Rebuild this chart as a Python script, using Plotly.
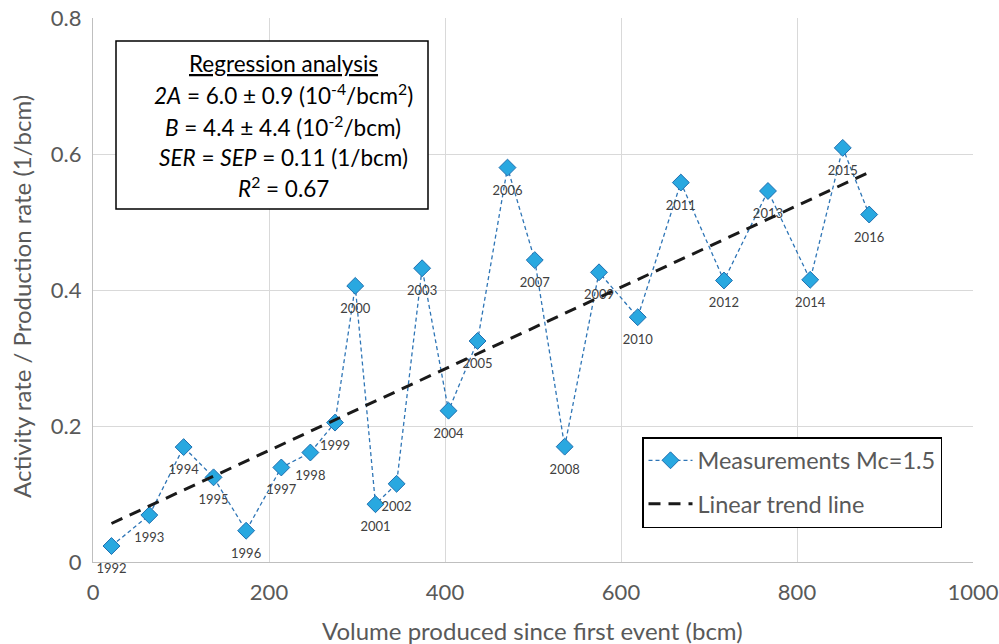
import plotly.graph_objects as go

# ---- data ----
volume_bcm = [21, 64, 103, 137, 174, 214, 247, 275, 298, 321, 345, 374, 404, 437, 471, 502, 536, 575, 619, 668, 717, 767, 815, 852, 882]
activity_ratio = [0.0235, 0.069, 0.169, 0.1245, 0.046, 0.139, 0.161, 0.205, 0.406, 0.085, 0.115, 0.432, 0.2225, 0.325, 0.580, 0.444, 0.1696, 0.426, 0.360, 0.558, 0.414, 0.5456, 0.415, 0.609, 0.511]
year_labels = [str(y) for y in range(1992, 2017)]

trend_slope = 6.0e-4   # 2A (1/bcm^2)
trend_intercept = 0.044  # B (1/bcm)
trend_x = [volume_bcm[0], volume_bcm[-1]]
trend_y = [trend_intercept + trend_slope * v for v in trend_x]

x_ticks = [0, 200, 400, 600, 800, 1000]
y_ticks = [0, 0.2, 0.4, 0.6, 0.8]
y_tick_text = ["0", "0.2", "0.4", "0.6", "0.8"]

FONT = "Lato"
GRAY = "#595959"

# plot area in pixels
L, R, T, B = 93, 973, 18, 562
W, H = R - L, B - T


def px(xp):
    return (xp - L) / W


def py(yp):
    return (B - yp) / H


fig = go.Figure()
fig.add_trace(go.Scatter(
    x=volume_bcm, y=activity_ratio, mode="lines+markers",
    name="Measurements Mc=1.5", cliponaxis=False,
    line=dict(color="#2E75B6", width=1.3, dash="4px,3px"),
    marker=dict(symbol="diamond", size=13, color="#29A8E0",
                line=dict(color="#1F6FB0", width=1)),
    legendgroup="a",
))
# year labels (invisible larger markers just to set the label offset)
fig.add_trace(go.Scatter(
    x=volume_bcm, y=activity_ratio, mode="markers+text", cliponaxis=False,
    text=year_labels, textposition="bottom center",
    textfont=dict(family=FONT, size=13, color="#404040"),
    marker=dict(size=26, opacity=0), showlegend=False, hoverinfo="skip",
))
fig.add_trace(go.Scatter(
    x=trend_x, y=trend_y, mode="lines", name="Linear trend line",
    line=dict(color="#1a1a1a", width=3, dash="12px,8px"),
    legendgroup="b",
))

fig.add_shape(type="rect", xref="paper", yref="paper",
              x0=px(116), x1=px(428), y0=py(209), y1=py(41),
              line=dict(color="black", width=1.5), fillcolor="white", layer="above")

box_lines = [
    "<u>Regression analysis</u>",
    "<i>2A</i> = 6.0 ± 0.9 (10<sup>-4</sup>/bcm<sup>2</sup>)",
    "<i>B</i> = 4.4 ± 4.4 (10<sup>-2</sup>/bcm)",
    "<i>SER</i> = <i>SEP</i> = 0.11 (1/bcm)",
    "<i>R</i><sup>2</sup> = 0.67",
]
line_y_px = [63, 94, 126, 157, 187]
for txt, ypx in zip(box_lines, line_y_px):
    fig.add_annotation(xref="paper", yref="paper", x=px(283), y=py(ypx),
                       text=txt, showarrow=False, xanchor="center", yanchor="middle",
                       font=dict(family=FONT, size=22.5, color="black"))

# axis titles
fig.add_annotation(xref="paper", yref="paper", x=px(532), y=py(630),
                   text="Volume produced since first event (bcm)", showarrow=False,
                   xanchor="center", yanchor="middle",
                   font=dict(family=FONT, size=24, color=GRAY))
fig.add_annotation(xref="paper", yref="paper", x=px(21), y=py(297),
                   text="Activity rate / Production rate (1/bcm)", showarrow=False,
                   textangle=-90, xanchor="center", yanchor="middle",
                   font=dict(family=FONT, size=24, color=GRAY))

fig.update_layout(
    width=999, height=644,
    margin=dict(l=L, r=999 - R, t=T, b=644 - B, autoexpand=False),
    paper_bgcolor="white", plot_bgcolor="white",
    font=dict(family=FONT, color=GRAY),
    showlegend=True,
    legend=dict(x=px(642), y=py(437), xanchor="left", yanchor="top",
                bordercolor="black", borderwidth=1.5, bgcolor="white",
                font=dict(family=FONT, size=23.5, color=GRAY),
                tracegroupgap=10, traceorder="grouped", itemwidth=44),
    xaxis=dict(range=[0, 1000], tickvals=x_ticks, showgrid=True, gridcolor="#D9D9D9", gridwidth=1.3,
               showline=True, linecolor="#BFBFBF", linewidth=1.3, zeroline=False, ticks="",
               automargin=False, ticklabelstandoff=10,
               tickfont=dict(family=FONT, size=22, color=GRAY)),
    yaxis=dict(range=[0, 0.8], tickvals=y_ticks, ticktext=y_tick_text, showgrid=True,
               gridcolor="#D9D9D9", gridwidth=1.3, showline=True, linecolor="#BFBFBF", linewidth=1.3,
               zeroline=False, ticks="", ticklabelstandoff=6, automargin=False,
               tickfont=dict(family=FONT, size=22, color=GRAY)),
)

fig.write_html("out.html", config={"displayModeBar": False},
               post_script="document.body.style.margin='0px';document.body.style.overflow='hidden';")
